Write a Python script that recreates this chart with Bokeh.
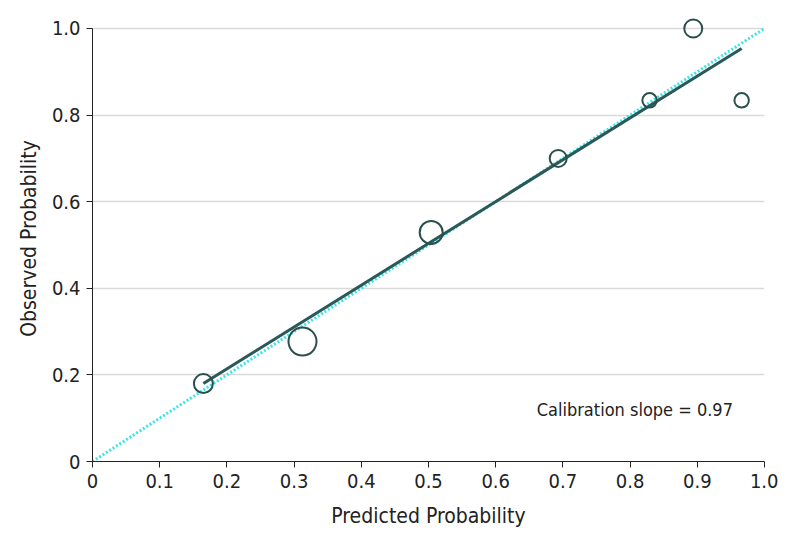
from bokeh.plotting import figure
from bokeh.models import Range1d, Label, FixedTicker
from bokeh.embed import file_html
from bokeh.resources import INLINE

# Data
pred = [0.165, 0.3125, 0.504, 0.693, 0.829, 0.894, 0.966]
obs = [0.180, 0.277, 0.529, 0.700, 0.834, 1.000, 0.834]
sizes = [19, 28, 23, 17, 14.5, 18, 14.5]
fit_x = [0.165, 0.966]
fit_y = [0.180, 0.954]
diag = [0.0, 1.0]
x_ticks = [0, 0.1, 0.2, 0.3, 0.4, 0.5, 0.6, 0.7, 0.8, 0.9, 1.0]
x_labels = ["0", "0.1", "0.2", "0.3", "0.4", "0.5", "0.6", "0.7", "0.8", "0.9", "1.0"]
y_ticks = [0, 0.2, 0.4, 0.6, 0.8, 1.0]
y_labels = ["0", "0.2", "0.4", "0.6", "0.8", "1.0"]

FONT = "DejaVu Sans Condensed"

p = figure(width=778, height=536, output_backend="svg", toolbar_location=None,
           x_range=Range1d(0, 1.0), y_range=Range1d(0, 1.03),
           min_border_left=92, min_border_right=14, min_border_top=15, min_border_bottom=75)
p.outline_line_color = None
p.xgrid.grid_line_color = None
p.ygrid.grid_line_color = "#d9d9d9"
p.ygrid.grid_line_width = 1.5

p.xaxis.ticker = FixedTicker(ticks=x_ticks)
p.yaxis.ticker = FixedTicker(ticks=y_ticks)
p.xaxis.major_label_overrides = {t: l for t, l in zip(x_ticks, x_labels)}
p.yaxis.major_label_overrides = {t: l for t, l in zip(y_ticks, y_labels)}
p.yaxis.bounds = (0, 1)
p.xaxis.bounds = (0, 1)
for ax in (p.xaxis, p.yaxis):
    ax.axis_line_color = "#222222"
    ax.major_tick_line_color = "#222222"
    ax.major_tick_out = 6
    ax.major_tick_in = 0
    ax.minor_tick_line_color = None
    ax.major_label_text_font = FONT
    ax.major_label_text_font_size = "20px"
    ax.major_label_text_color = "#222222"
    ax.axis_label_text_font = FONT
    ax.axis_label_text_font_size = "21px"
    ax.axis_label_text_font_style = "normal"
    ax.axis_label_text_color = "#222222"
p.xaxis.axis_label = "Predicted Probability"
p.yaxis.axis_label = "Observed Probability"
p.xaxis.axis_label_standoff = 13
p.yaxis.axis_label_standoff = 8
p.xaxis.major_label_standoff = 6
p.yaxis.major_label_standoff = 6

p.line(diag, diag, line_color="#3ee3ea", line_width=3, line_dash="2 2")
p.line(fit_x, fit_y, line_color="#2a5a57", line_width=3)
p.scatter(pred, obs, size=sizes, fill_color=None, line_color="#2b4f4d", line_width=2)

p.add_layout(Label(x=0.661, y=0.12, text="Calibration slope = 0.97", text_font=FONT,
                   text_font_size="18px", text_color="#222222", text_baseline="middle"))

open("out.html", "w").write(file_html(p, INLINE))
